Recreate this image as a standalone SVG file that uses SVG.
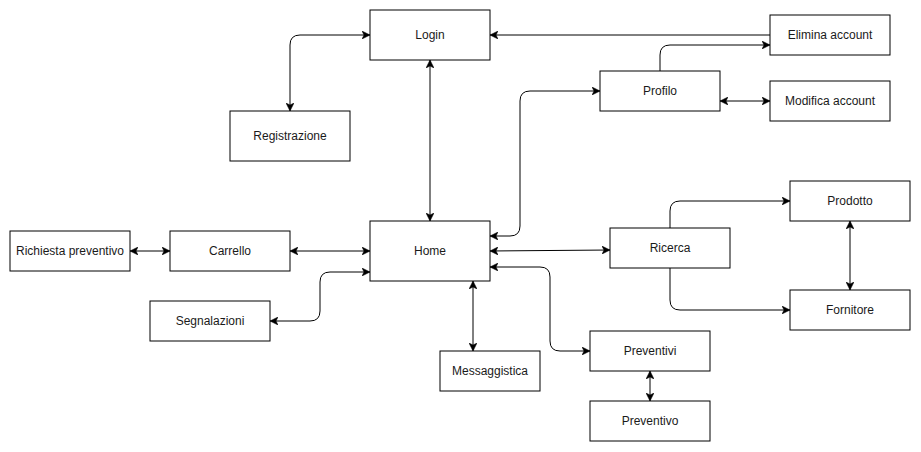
<svg xmlns="http://www.w3.org/2000/svg" width="921" height="452" viewBox="0 0 921 452">
<style>
.n rect{fill:#fff;stroke:#000;stroke-width:1}
.n text{font-family:"Liberation Sans",Arial,sans-serif;font-size:12px;fill:#1a1a1a;text-anchor:middle;dominant-baseline:central}
.e path{fill:none;stroke:#000;stroke-width:1}
.b{marker-start:url(#a);marker-end:url(#a)}
.s{marker-end:url(#a)}
</style>
<defs>
<marker id="a" viewBox="0 0 8 8" refX="8" refY="4" markerWidth="8" markerHeight="8" markerUnits="userSpaceOnUse" orient="auto-start-reverse">
<path d="M0,0 L8,4 L0,8 L2,4 z" fill="#000" stroke="#000" stroke-width="0.5"/>
</marker>
</defs>
<rect width="921" height="452" fill="#fff"/>
<g class="e" id="connectors">
<path class="b" d="M370,35 L300,35 Q290,35 290,45 L290,111"/>
<path class="b" d="M430,60 L430,221"/>
<path class="s" d="M770,35 L490,35"/>
<path class="s" d="M660,71 L660,55 Q660,45 670,45 L770,45"/>
<path class="b" d="M720,101 L770,101"/>
<path class="b" d="M490,236 L510,236 Q520,236 520,226 L520,101 Q520,91 530,91 L600,91"/>
<path class="b" d="M490,251 L610,250"/>
<path class="b" d="M490,267 L540,267 Q550,267 550,277 L550,341 Q550,351 560,351 L590,351"/>
<path class="s" d="M670,228 L670,211 Q670,201 680,201 L790,201"/>
<path class="s" d="M670,268 L670,300 Q670,310 680,310 L790,310"/>
<path class="b" d="M850,221 L850,290"/>
<path class="b" d="M650,371 L650,401"/>
<path class="b" d="M130,251 L170,251"/>
<path class="b" d="M290,251 L370,251"/>
<path class="b" d="M370,272 L330,272 Q320,272 320,282 L320,311 Q320,321 310,321 L270,321"/>
<path class="b" d="M473,281 L473,351"/>
</g>
<g class="n" id="login"><rect x="370" y="10" width="120" height="50"/><text x="430" y="35">Login</text></g>
<g class="n" id="registrazione"><rect x="230" y="111" width="120" height="50"/><text x="290" y="136">Registrazione</text></g>
<g class="n" id="elimina"><rect x="770" y="15" width="120" height="40"/><text x="830" y="35">Elimina account</text></g>
<g class="n" id="profilo"><rect x="600" y="71" width="120" height="40"/><text x="660" y="91">Profilo</text></g>
<g class="n" id="modifica"><rect x="770" y="81" width="120" height="40"/><text x="830" y="101">Modifica account</text></g>
<g class="n" id="home"><rect x="370" y="221" width="120" height="60"/><text x="430" y="251">Home</text></g>
<g class="n" id="richiesta"><rect x="10" y="231" width="120" height="40"/><text x="70" y="251">Richiesta preventivo</text></g>
<g class="n" id="carrello"><rect x="170" y="231" width="120" height="40"/><text x="230" y="251">Carrello</text></g>
<g class="n" id="segnalazioni"><rect x="150" y="301" width="120" height="40"/><text x="210" y="321">Segnalazioni</text></g>
<g class="n" id="messaggistica"><rect x="440" y="351" width="100" height="40"/><text x="490" y="371">Messaggistica</text></g>
<g class="n" id="ricerca"><rect x="610" y="228" width="120" height="40"/><text x="670" y="248">Ricerca</text></g>
<g class="n" id="prodotto"><rect x="790" y="181" width="120" height="40"/><text x="850" y="201">Prodotto</text></g>
<g class="n" id="fornitore"><rect x="790" y="290" width="120" height="40"/><text x="850" y="310">Fornitore</text></g>
<g class="n" id="preventivi"><rect x="590" y="331" width="120" height="40"/><text x="650" y="351">Preventivi</text></g>
<g class="n" id="preventivo"><rect x="590" y="401" width="120" height="40"/><text x="650" y="421">Preventivo</text></g>
</svg>
